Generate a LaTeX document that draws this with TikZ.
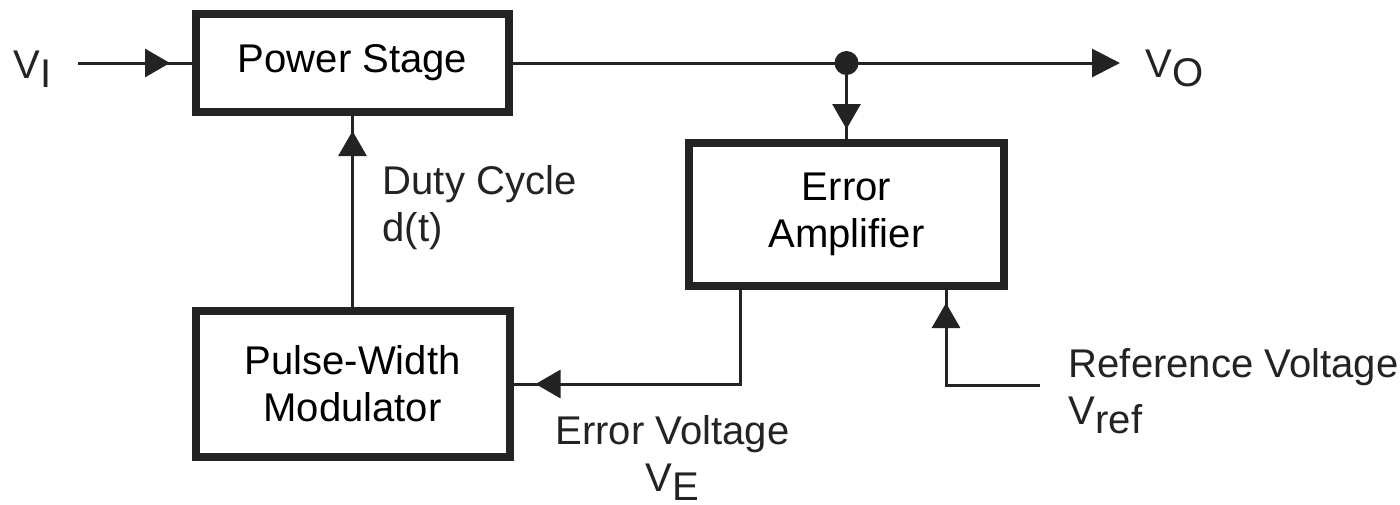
\documentclass[tikz,border=0pt]{standalone}
\usepackage{fontspec}
\setmainfont{Liberation Sans}
\usepackage{xcolor}
\usepackage{tikz}
\usetikzlibrary{arrows.meta, positioning, calc, decorations.markings}
\definecolor{darkline}{RGB}{35, 35, 35}
\newcommand{\lowsub}[1]{\raisebox{-0.09cm}{#1}}
\tikzstyle{block} = [
    rectangle,
    minimum width=3.13cm,
    minimum height=0.98cm,
    align=center,
    draw=darkline,
    line width=0.08cm,
    fill=white
]
\tikzstyle{signal} = [
    inner sep=0pt,
    text=darkline
]
\tikzstyle{wire} = [
    line width=0.03cm,
    color=darkline
]
\tikzset{
    flow/.style={
        wire,
        postaction={decorate},
        decoration={markings, mark=at position -#1 with {\arrow{Triangle[length=0.25cm, width=0.28cm]}}}
    },
    flow/.default=0.2cm
}

\begin{document}
\begin{tikzpicture}[every node/.style={font=\fontsize{11.4}{13.4}\selectfont}]
    \useasboundingbox (0,0) rectangle (14,-5.04);
    \node[block] (ps) at (3.525,-0.63) {Power Stage};
    \node[block, minimum width=3.14cm, minimum height=1.46cm, below=1.91cm of ps] (pwm) {Pulse-Width\\Modulator};
    \node[block, minimum width=3.15cm, minimum height=1.43cm, below right=0.23cm and 1.72cm of ps] (ea) {Error\\Amplifier};

    \node[signal, anchor=base west] (vi) at (0.13,-0.78) {V\lowsub{I}};
    \node[signal, anchor=base west] (vo) at (11.45,-0.77) {V\lowsub{O}};
    \node[signal, anchor=north west, align=left] (duty) at (3.82,-1.65) {Duty Cycle\\d(t)};
    \node[signal, anchor=north, align=center] (ev) at (6.725,-4.15) {Error Voltage\\V\lowsub{E}};
    \node[signal, anchor=north west, align=left] (rv) at (10.68,-3.48) {Reference Voltage\\V\lowsub{ref}};
    \coordinate (tap) at (ps.east -| ea.north);
    \coordinate (vrefin) at (10.40,-3.85);

    \draw[flow=0.22cm, shorten <=0.26cm] (vi.east |- ps.west) -- (ps.west);
    \draw[wire, -{Triangle[length=0.28cm, width=0.28cm]}, shorten >=0.25cm] (ps.east) -- (vo.west |- ps.east);
    \fill[darkline] (tap) circle (0.12cm);
    \draw[flow=0.1cm] (tap) -- (ea.north);
    \draw[flow=0.15cm] (pwm.north) -- (ps.south);
    \draw[flow=0.22cm] ([xshift=-1.065cm]ea.south) |- (pwm.east);
    \draw[flow=0.13cm] (vrefin) -| ([xshift=0.995cm]ea.south);
\end{tikzpicture}
\end{document}
